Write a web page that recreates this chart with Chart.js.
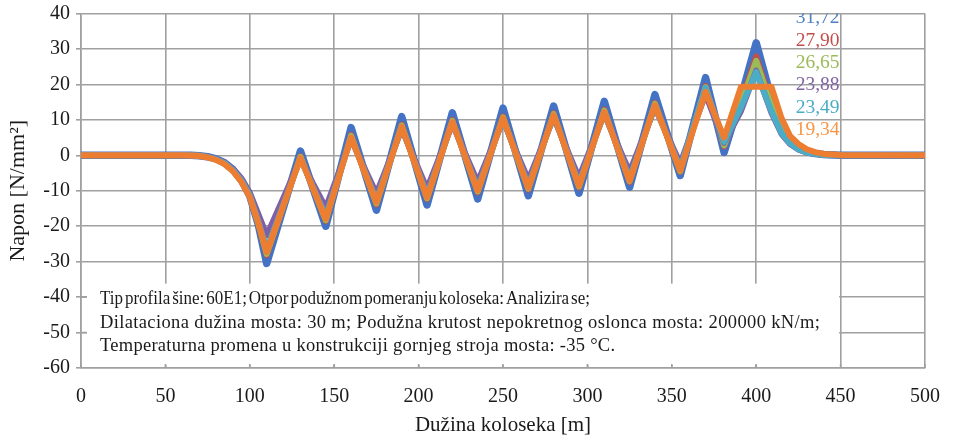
<!DOCTYPE html>
<html><head><meta charset="utf-8">
<script src="https://cdn.jsdelivr.net/npm/chart.js@4.4.0/dist/chart.umd.min.js"></script>
<style>html,body{margin:0;padding:0;background:#fff;}#wrap{width:957px;height:439px;}</style>
</head><body><div id="wrap"><canvas id="c" width="957" height="439"></canvas></div>
<script>
// positions along the track [m]
const positions = [0, 50, 60, 65, 70, 75, 80, 85, 90, 95, 100, 105, 110, 130, 145, 160, 175, 190, 205, 220, 235, 250, 265, 280, 295, 310, 325, 340, 355, 370, 381, 391, 400, 409, 415, 420, 425, 430, 435, 440, 450, 500];

const blueValues   = [0, 0, 0, 0, -0.1, -0.4, -1.0, -2.1, -4.0, -7.0, -11.5, -19.5, -30.5, 1.2, -20.0, 7.8, -15.5, 10.9, -14.0, 12.0, -12.3, 13.3, -11.4, 13.9, -10.7, 15.2, -9.0, 17.1, -5.7, 21.9, 0.8, 16.3, 31.72, 16.0, 7.5, 4.0, 2.0, 1.0, 0.5, 0.2, 0, 0];
const redValues    = [0, 0, 0, 0, -0.1, -0.5, -1.1, -2.3, -4.3, -7.3, -11.6, -19.3, -28.2, -0.2, -18.6, 5.8, -13.9, 8.7, -12.4, 10.0, -10.5, 11.0, -9.7, 11.9, -9.1, 12.9, -7.6, 14.8, -4.7, 19.6, 2.5, 15.2, 27.90, 14.5, 7.0, 3.8, 1.9, 0.9, 0.4, 0.2, 0, 0];
const greenValues  = [0, 0, 0, 0, -0.1, -0.5, -1.1, -2.3, -4.2, -7.2, -11.5, -19.1, -27.8, -0.4, -18.3, 5.5, -13.6, 8.4, -12.1, 9.7, -10.2, 10.7, -9.4, 11.6, -8.8, 12.6, -7.3, 14.5, -4.5, 19.2, 2.8, 14.6, 26.65, 14.0, 6.8, 3.6, 1.8, 0.9, 0.4, 0.2, 0, 0];
const purpleValues = [0, 0, 0, 0, -0.1, -0.4, -1.0, -2.0, -3.8, -6.5, -10.5, -16.5, -22.6, -1.2, -14.8, 4.5, -10.8, 7.3, -9.4, 8.8, -7.5, 9.8, -6.9, 10.6, -6.3, 11.6, -4.7, 13.4, -2.3, 17.2, 3.5, 12.5, 23.88, 12.0, 6.0, 3.2, 1.6, 0.8, 0.4, 0.1, 0, 0];
const cyanValues   = [0, 0, 0, 0, -0.1, -0.5, -1.1, -2.2, -4.2, -7.1, -11.3, -18.6, -26.5, -0.9, -17.2, 4.9, -12.6, 7.9, -11.2, 9.2, -9.3, 10.2, -8.5, 11.1, -7.9, 12.0, -6.5, 13.9, -3.6, 19.0, 3.8, 13.6, 23.49, 12.5, 6.3, 3.4, 1.7, 0.8, 0.4, 0.1, 0, 0];
const orangeValues = [0, 0, 0, -0.05, -0.2, -0.6, -1.3, -2.5, -4.5, -7.5, -11.8, -19.0, -27.3, -0.8, -17.9, 5.0, -13.2, 8.0, -11.8, 9.4, -9.9, 10.4, -9.1, 11.3, -8.5, 12.2, -7.1, 14.1, -4.2, 17.9, 5.0, 19.34, 19.34, 19.34, 10.5, 5.5, 3.2, 1.7, 0.9, 0.4, 0.1, 0];

const peakLabels = ['31,72', '27,90', '26,65', '23,88', '23,49', '19,34'];
const xTickValues = [0, 50, 100, 150, 200, 250, 300, 350, 400, 450, 500];
const yTickValues = [-60, -50, -40, -30, -20, -10, 0, 10, 20, 30, 40];
const noteLines = [
  'Tip profila šine: 60E1; Otpor podužnom pomeranju koloseka: Analizira se;',
  'Dilataciona dužina mosta: 30 m; Podužna krutost nepokretnog oslonca mosta: 200000 kN/m;',
  'Temperaturna promena u konstrukciji gornjeg stroja mosta: -35 °C.'
];
const xTitle = 'Dužina koloseka [m]';
const yTitle = 'Napon [N/mm²]';

const lineColors  = ['#4472C4', '#C0504D', '#9BBB59', '#7F60A8', '#4BACC6', '#ED7D31'];
const labelColors = ['#4F81BD', '#C0504D', '#9BBB59', '#8064A2', '#4BACC6', '#F79646'];
const allValues = [blueValues, redValues, greenValues, purpleValues, cyanValues, orangeValues];
const widths = [7.5, 6, 6, 6, 6, 6];

const FONT = 'Liberation Serif';
const GRID = '#A0A0A0';
const TXT = '#1a1a1a';

const datasets = allValues.map((vals, i) => ({
  data: vals.map((v, k) => ({x: positions[k], y: v})),
  borderColor: lineColors[i],
  borderWidth: widths[i],
  pointRadius: 0,
  tension: 0,
  borderJoinStyle: 'round',
  borderCapStyle: 'round',
  order: 6 - i
}));

// target widths (px) and word spacing of the three note lines
const noteWidths = [490, 720, 515];
const noteWordSpacing = [-2.5, 0, 0];

const overlay = {
  id: 'overlay',
  beforeDatasetsDraw(chart) {
    const {ctx, chartArea: a, scales: {x, y}} = chart;
    ctx.save();
    const bx0 = a.left + 6, bx1 = x.getPixelForValue(450) - 1.5;
    const by0 = y.getPixelForValue(-36.2), by1 = a.bottom - 3;
    ctx.fillStyle = '#fff';
    ctx.fillRect(bx0, by0, bx1 - bx0, by1 - by0);
    ctx.strokeStyle = GRID; ctx.lineWidth = 1.6;
    [-40, -50].forEach(v => {
      const py = y.getPixelForValue(v);
      ctx.beginPath(); ctx.moveTo(a.left, py); ctx.lineTo(a.left + 6, py); ctx.stroke();
    });
    xTickValues.forEach(v => {
      const px = x.getPixelForValue(v);
      ctx.beginPath(); ctx.moveTo(px, a.bottom); ctx.lineTo(px, a.bottom - 4); ctx.stroke();
    });
    ctx.fillStyle = TXT;
    ctx.font = '18.5px "' + FONT + '"';
    ctx.textBaseline = 'middle';
    ctx.textAlign = 'left';
    noteLines.forEach((t, i) => {
      ctx.letterSpacing = '0px';
      ctx.wordSpacing = noteWordSpacing[i] + 'px';
      const w = ctx.measureText(t).width;
      const target = noteWidths[i];
      const ty = by0 + 16 + i * 23.5;
      if (w < target && t.length > 1) {
        ctx.letterSpacing = ((target - w) / (t.length - 1)).toFixed(2) + 'px';
        ctx.fillText(t, a.left + 19, ty);
      } else {
        ctx.fillText(t, a.left + 19, ty, target);
      }
    });
    ctx.letterSpacing = '0px';
    ctx.wordSpacing = '0px';
    ctx.restore();
  },
  afterDatasetsDraw(chart) {
    const {ctx, chartArea: a, scales: {x}} = chart;
    ctx.save();
    ctx.beginPath(); ctx.rect(a.left, a.top, a.right - a.left, a.bottom - a.top); ctx.clip();
    ctx.font = '19.5px "' + FONT + '"';
    ctx.textAlign = 'right';
    ctx.textBaseline = 'middle';
    const rx = x.getPixelForValue(450) - 1;
    peakLabels.forEach((t, i) => {
      ctx.fillStyle = labelColors[i];
      ctx.fillText(t, rx, a.top + 4.5 + i * 22.4);
    });
    ctx.restore();
  }
};

new Chart(document.getElementById('c'), {
  type: 'line',
  data: {datasets},
  options: {
    responsive: false,
    devicePixelRatio: 1,
    animation: false,
    layout: {padding: {top: 0, right: 26, left: 0, bottom: 0}},
    plugins: {legend: {display: false}, tooltip: {enabled: false}},
    scales: {
      x: {
        type: 'linear', min: 0, max: 500,
        afterBuildTicks: s => { s.ticks = xTickValues.map(v => ({value: v})); },
        afterFit: s => { s.height = 71; },
        grid: {color: GRID, lineWidth: 1.6, drawTicks: false},
        border: {color: GRID, width: 1.6},
        ticks: {padding: 17, color: TXT, font: {family: FONT, size: 20}},
        title: {display: true, text: xTitle, color: TXT, font: {family: FONT, size: 21}, padding: {top: 0, bottom: 1}}
      },
      y: {
        min: -60, max: 40,
        afterBuildTicks: s => { s.ticks = yTickValues.map(v => ({value: v})); },
        afterFit: s => { s.width = 81; s.paddingTop = 13.5; s.paddingBottom = 0; },
        grid: {color: GRID, lineWidth: 1.6, drawTicks: true, tickLength: 5},
        border: {color: GRID, width: 1.6},
        ticks: {padding: 6, color: TXT, font: {family: FONT, size: 20}},
        title: {display: true, text: yTitle, color: TXT, font: {family: FONT, size: 22}, padding: {top: 5, bottom: 0}}
      }
    }
  },
  plugins: [overlay]
});
</script></body></html>
